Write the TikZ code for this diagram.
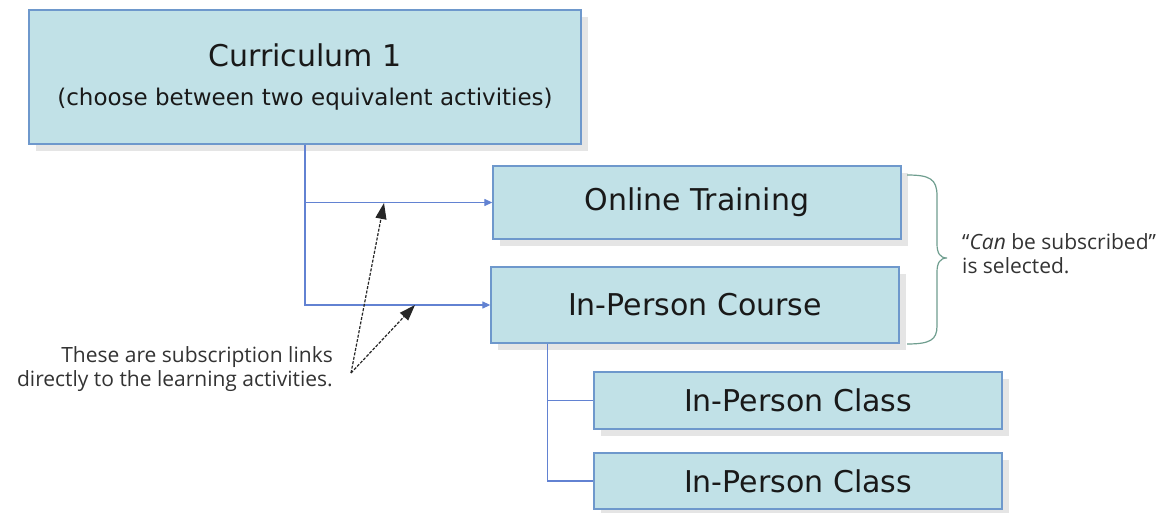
\documentclass[tikz,border=0pt]{standalone}
\usepackage{fontspec}
\setmainfont{DejaVu Sans}
\newfontfamily\notefont{Open Sans}
\usetikzlibrary{arrows.meta,shadows,calc}
\definecolor{boxfill}{HTML}{C1E1E7}
\definecolor{boxline}{HTML}{6E98CC}
\definecolor{linkblue}{HTML}{6282D2}
\definecolor{bracecol}{HTML}{6F9E8F}
\definecolor{notecol}{HTML}{333333}
\tikzset{
  actbox/.style={rectangle, draw=boxline, line width=1.3pt, fill=boxfill, inner sep=0pt,
    drop shadow={shadow xshift=7pt, shadow yshift=-7pt, fill=black!10, opacity=1},
    text=black!90},
  boxtext/.style={font=\fontsize{30}{36}\selectfont},
  link/.style={draw=linkblue, line width=1.2pt},
  linkarrow/.style={link, -{Triangle[length=8pt,width=7pt]}},
  notearrow/.style={draw=black!85, line width=1.2pt, dash pattern=on 3pt off 1.5pt,
    -{Triangle[length=16pt,width=11pt]}},
  notetext/.style={font=\notefont\fontsize{21}{24}\selectfont, text=notecol, inner sep=0pt}
}
\begin{document}
\begin{tikzpicture}[x=1pt,y=-1pt]
\useasboundingbox[fill=white] (0,0) rectangle (1159,513);
\node[actbox, minimum width=552pt, minimum height=134pt, align=center] (cur) at (305,77)
  {\fontsize{30}{36}\selectfont Curriculum 1\\[20pt]\fontsize{23}{26}\selectfont (choose between two equivalent activities)};
\node[actbox, boxtext, minimum width=408pt, minimum height=73pt] (ot) at (697,202.5) {Online Training};
\node[actbox, boxtext, minimum width=408pt, minimum height=76pt] (ipc) at (695,305) {In-Person Course};
\node[actbox, boxtext, minimum width=408pt, minimum height=57pt] (cl1) at (798,400.5) {In-Person Class};
\node[actbox, boxtext, minimum width=408pt, minimum height=56pt] (cl2) at (798,481) {In-Person Class};

\draw[linkarrow] (cur.south) |- (ot.west);
\draw[linkarrow] (cur.south) |- (ipc.west);
\coordinate (ipcdrop) at ($(ipc.south west)+(57,0)$);
\draw[link] (ipcdrop) |- (cl1.west);
\draw[link] (ipcdrop) |- (cl2.west);

\node[notetext, anchor=east, align=right] (note) at (333,369)
  {These are subscription links\\directly to the learning activities.};
\coordinate (nstart) at (351,373);
\coordinate (ntip1) at (384,203);
\coordinate (ntip2) at (415,305);
\draw[notearrow] (nstart) -- (ntip1);
\draw[notearrow] (nstart) -- (ntip2);

\draw[bracecol, line width=1.2pt] (907,175) .. controls (930,175) and (937,179) .. (937,196)
  -- (937,244) .. controls (937,253) and (940,258) .. (947,258)
  .. controls (940,258) and (937,263) .. (937,272)
  -- (937,326) .. controls (937,340) and (930,344) .. (907,344);
\node[notetext, anchor=west, align=left] (sel) at (962,254)
  {“\textit{Can} be subscribed”\\is selected.};
\end{tikzpicture}
\end{document}
